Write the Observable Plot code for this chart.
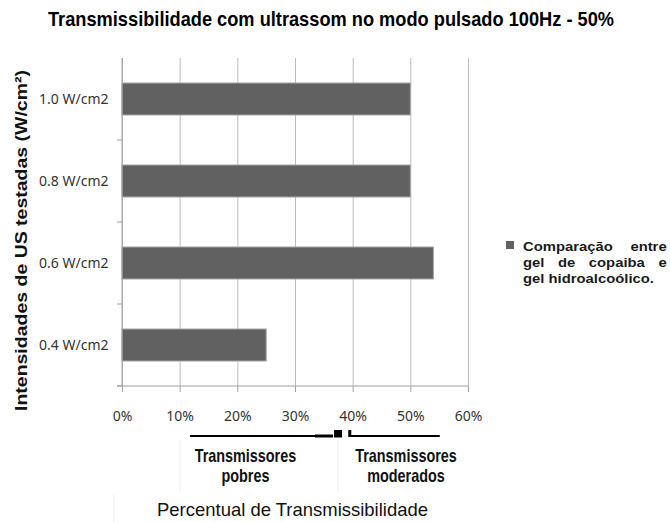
<!DOCTYPE html>
<html>
<head>
<meta charset="utf-8">
<script src="https://cdn.jsdelivr.net/npm/d3@7"></script>
<script src="https://cdn.jsdelivr.net/npm/@observablehq/plot@0.6"></script>
<style>
  body { margin: 0; background: #fff; }
  #wrap { position: relative; width: 670px; height: 522px; overflow: hidden; background: #fff; }
  #title { height: 40px; font-family: "Liberation Sans", Arial, sans-serif; font-weight: bold; font-size: 20.5px; color: #000; white-space: nowrap; position: relative; }
  #title span { position: absolute; left: 48px; top: 7px; transform-origin: 0 0; }
  #legend { position: absolute; left: 506px; top: 239px; font-family: "Liberation Sans", Arial, sans-serif; font-weight: bold; font-size: 13px; color: #1a1a1a; }
  #legend .sw { position: absolute; left: 0; top: 2px; width: 8px; height: 8px; background: #616161; }
  #legend .txt { position: absolute; left: 17px; top: 0; width: 126px; line-height: 16px; transform: scaleX(1.14); transform-origin: 0 0; }
  #legend .j { display: block; text-align: justify; text-align-last: justify; }
  #legend .l { display: block; }
</style>
</head>
<body>
<div id="wrap">
  <div id="title"><span>Transmissibilidade com ultrassom no modo pulsado 100Hz - 50%</span></div>
  <div id="chart"></div>
  <div id="legend"><div class="sw"></div><div class="txt"><span class="j">Comparação entre</span><span class="j">gel de copaiba e</span><span class="l">gel hidroalcoólico.</span></div></div>
</div>
<script>
const categories = ["1.0 W/cm2", "0.8 W/cm2", "0.6 W/cm2", "0.4 W/cm2"];
const values = [0.50, 0.50, 0.54, 0.25];
const xTicks = [0, 0.1, 0.2, 0.3, 0.4, 0.5, 0.6];
const yTitle = "Intensidades de US testadas (W/cm²)";
const xTitle = "Percentual de Transmissibilidade";
const groups = [
  {lines: ["Transmissores", "pobres"], from: 0.118, to: 0.366, at: 0.214},
  {lines: ["Transmissores", "moderados"], from: 0.395, to: 0.551, at: 0.4925}
];

const data = categories.map((c, i) => ({cat: c, v: values[i]}));
const TOP = 40;

const plot = Plot.plot({
  width: 670,
  height: 482,
  marginTop: 18,
  marginBottom: 136,
  marginLeft: 122,
  marginRight: 202,
  style: {fontFamily: "'Noto Sans', sans-serif", fontSize: "14px", color: "#333", background: "#fff"},
  x: {domain: [0, 0.6], ticks: xTicks, tickFormat: d3.format(".0%")},
  y: {domain: categories, paddingInner: 0.61, paddingOuter: 0.305},
  marks: [
    Plot.gridX(xTicks, {stroke: "#bdbdbd", strokeOpacity: 1, strokeWidth: 1}),
    Plot.barX(data, {x: "v", y: "cat", fill: "#616161", stroke: "#a6a6a6", strokeWidth: 1}),
    Plot.axisX(xTicks, {tickSize: 6, tickPadding: 19, stroke: "#a0a0a0", fill: "#333", fontSize: 14, label: null, tickFormat: d3.format(".0%")}),
    Plot.axisY({tickSize: 0, tickPadding: 14, fill: "#333", fontSize: 14, label: null})
  ]
});
document.getElementById("chart").appendChild(plot);

const xs = plot.scale("x");
const ys = plot.scale("y");
const svg = d3.select(plot);
const g = svg.append("g");
const [y0, y1] = [ys.range[0], ys.range[1]];
const x0 = xs.apply(0), x1 = xs.apply(0.6);
const step = ys.step;
const SANS = "'Liberation Sans', Arial, sans-serif";

// axis lines
g.append("line").attr("x1", x0).attr("x2", x0).attr("y1", y0).attr("y2", y1 + 0.5).attr("stroke", "#a0a0a0");
g.append("line").attr("x1", x0 - 5).attr("x2", x1).attr("y1", y1).attr("y2", y1).attr("stroke", "#a0a0a0");
for (let i = 1; i <= categories.length; i++) {
  const yy = y0 + i * step;
  g.append("line").attr("x1", x0 - 5).attr("x2", x0).attr("y1", yy).attr("y2", yy).attr("stroke", "#a0a0a0");
}

// y title
g.append("text").text(yTitle)
  .attr("transform", `translate(27,${240.5 - TOP}) rotate(-90)`)
  .attr("text-anchor", "middle")
  .attr("font-family", SANS)
  .attr("textLength", 341).attr("lengthAdjust", "spacingAndGlyphs")
  .attr("font-weight", "bold").attr("font-size", 17).attr("fill", "#111");

// faint text-box edges
[[180, 440, 492], [338, 440, 492], [114, 495, 522]].forEach(([x, a, b]) => {
  g.append("line").attr("x1", x).attr("x2", x).attr("y1", a - TOP).attr("y2", b - TOP).attr("stroke", "#eeeeee");
});

// brackets
const by = 436 - TOP;
const p = groups[0], m = groups[1];
g.append("line").attr("x1", xs.apply(p.from)).attr("x2", xs.apply(p.to)).attr("y1", by).attr("y2", by).attr("stroke", "#000").attr("stroke-width", 2);
g.append("line").attr("x1", xs.apply(p.to) - 18).attr("x2", xs.apply(p.to)).attr("y1", by).attr("y2", by).attr("stroke", "#000").attr("stroke-width", 3);
g.append("rect").attr("x", xs.apply(p.to) + 1).attr("y", by - 6).attr("width", 8).attr("height", 7.5).attr("fill", "#000");
g.append("line").attr("x1", xs.apply(m.from)).attr("x2", xs.apply(m.to)).attr("y1", by).attr("y2", by).attr("stroke", "#000").attr("stroke-width", 2);
g.append("line").attr("x1", xs.apply(m.from)).attr("x2", xs.apply(m.from)).attr("y1", by - 6).attr("y2", by + 1).attr("stroke", "#000").attr("stroke-width", 3);

// group labels (condensed bold)
groups.forEach(gr => {
  const cx = xs.apply(gr.at);
  gr.lines.forEach((ln, k) => {
    const t = g.append("text").text(ln)
      .attr("text-anchor", "middle")
      .attr("font-family", SANS)
      .attr("font-weight", "bold").attr("font-size", 18).attr("fill", "#111");
    t.attr("transform", `translate(${cx},${462 - TOP + k * 20}) scale(0.8,1)`);
  });
});

g.append("text").text(xTitle)
  .attr("x", 292.5).attr("y", 516 - TOP)
  .attr("text-anchor", "middle")
  .attr("font-family", SANS)
  .attr("textLength", 271).attr("lengthAdjust", "spacingAndGlyphs")
  .attr("font-size", 19).attr("fill", "#111");

// fit title width to the reference (48 -> 614)
const t = document.querySelector("#title span");
const w = t.getBoundingClientRect().width;
t.style.transform = `scaleX(${566 / w})`;
</script>
</body>
</html>
